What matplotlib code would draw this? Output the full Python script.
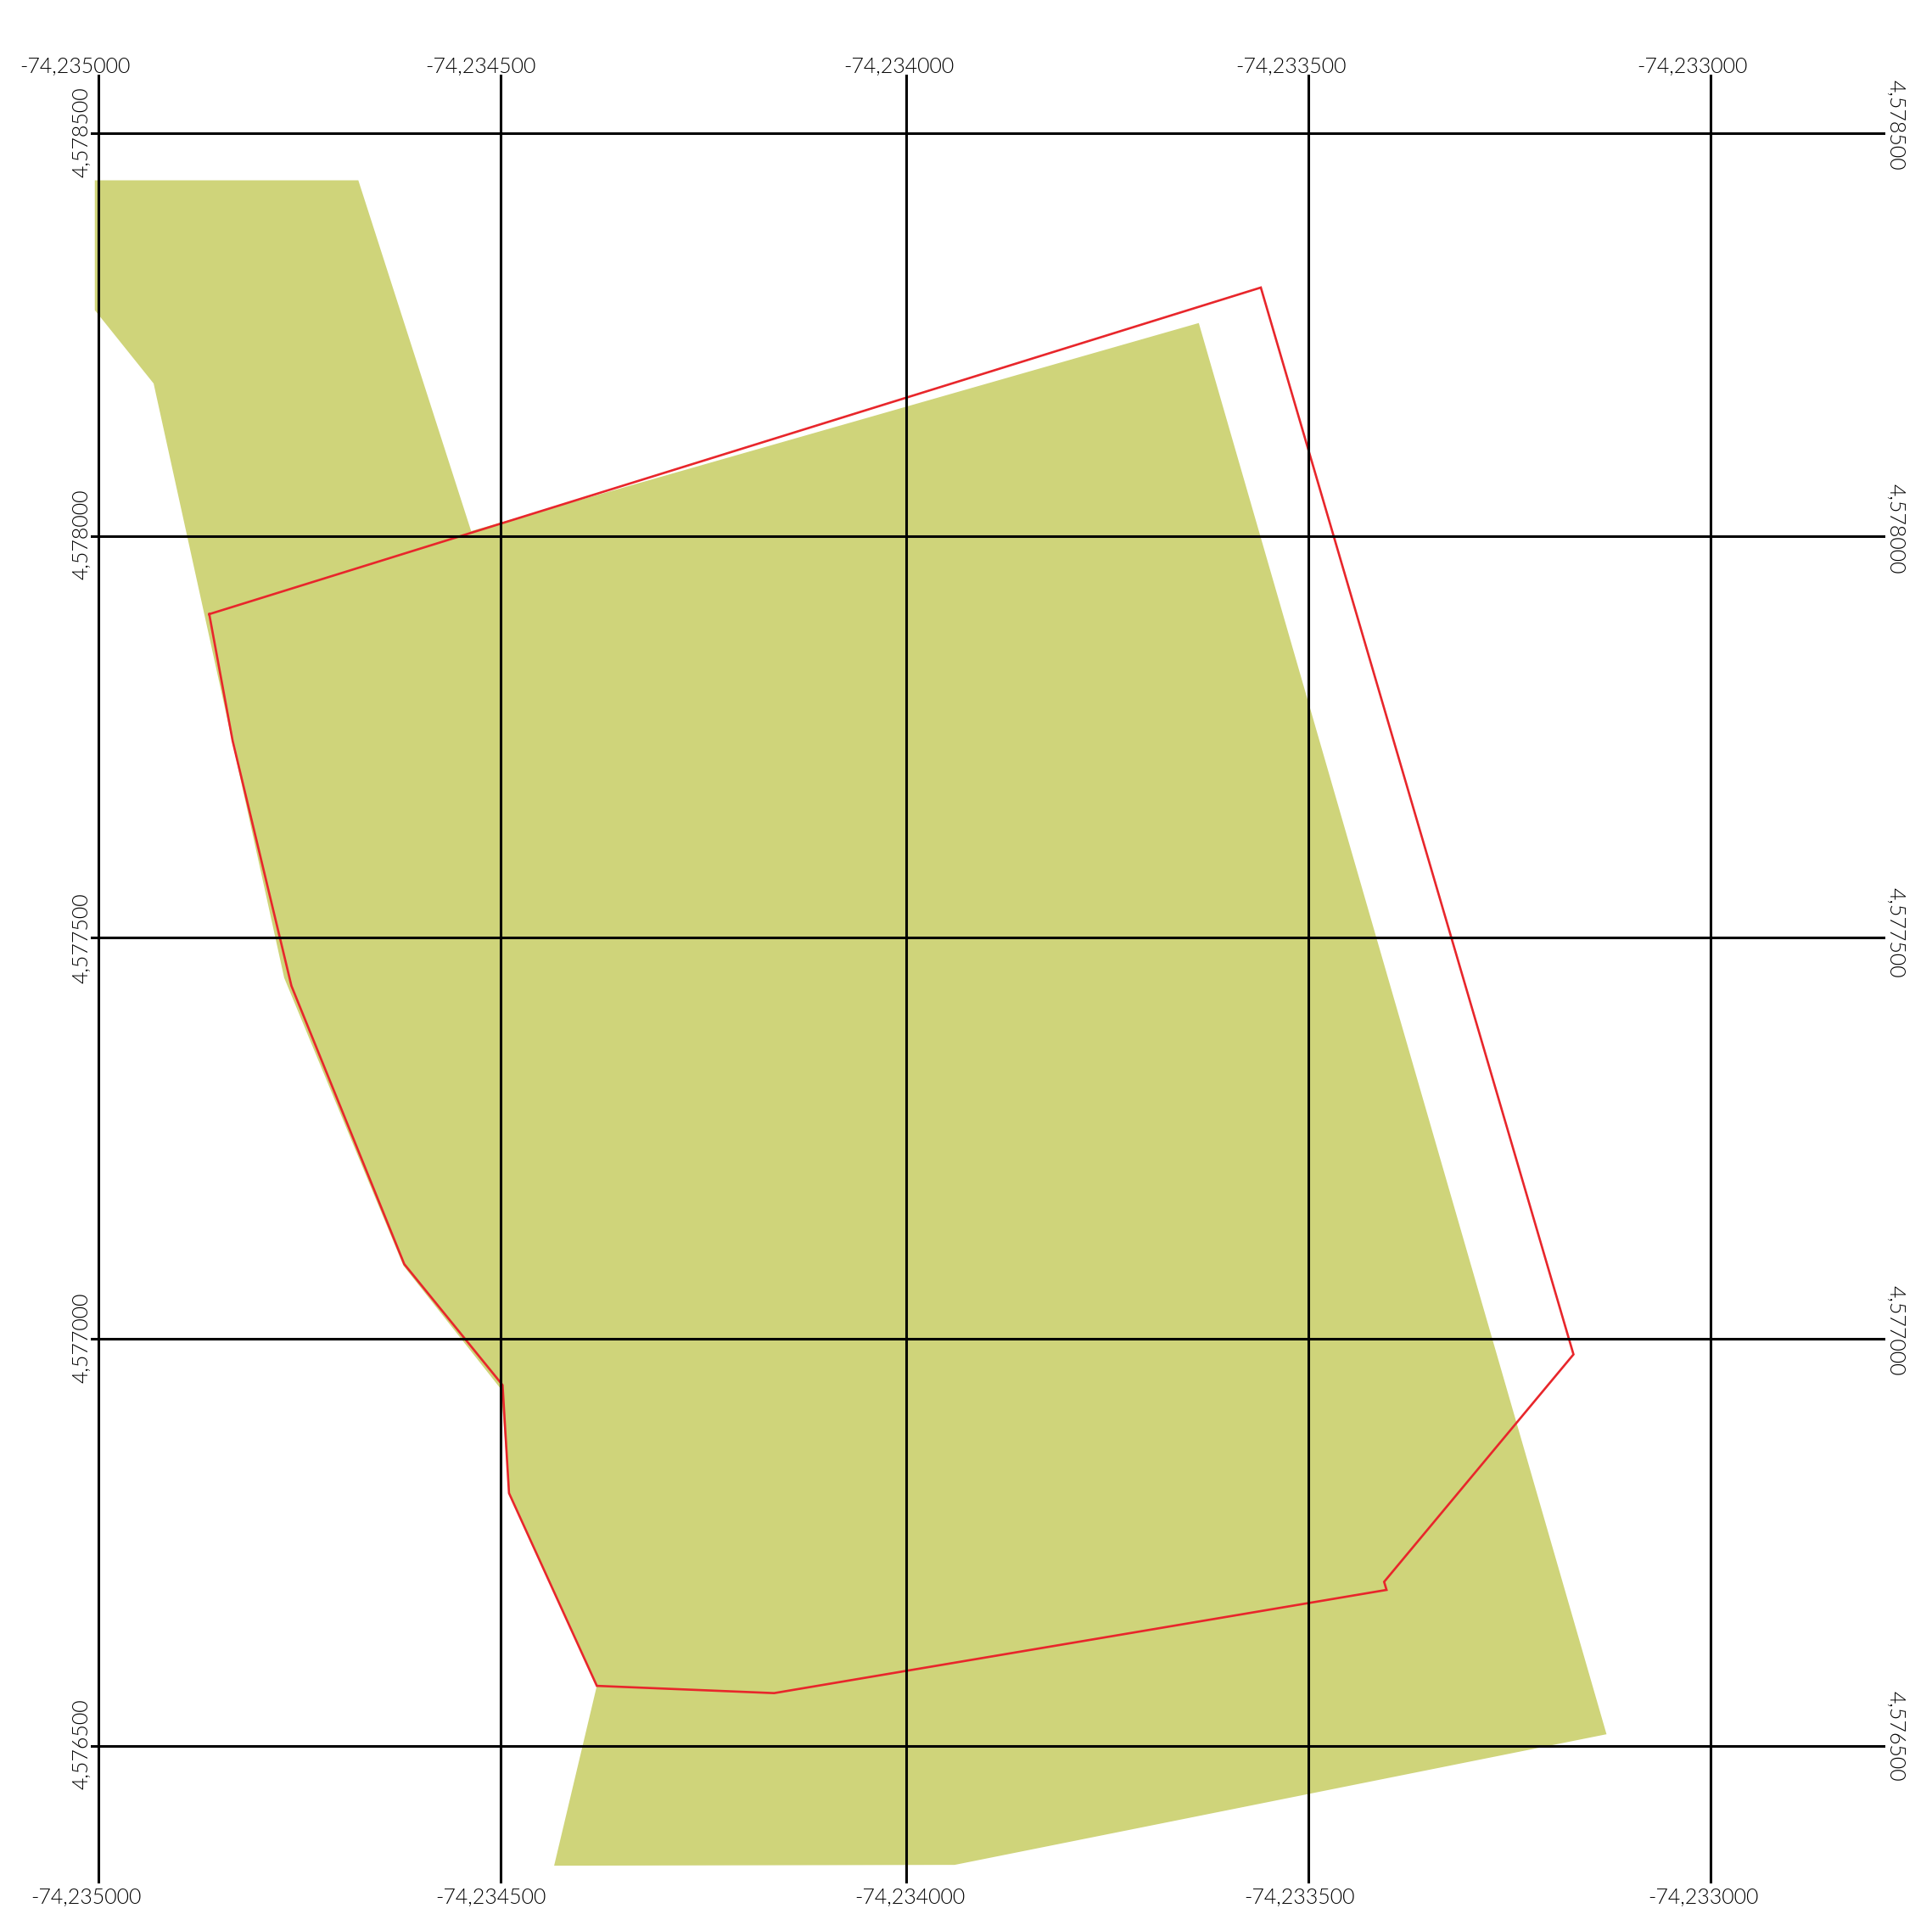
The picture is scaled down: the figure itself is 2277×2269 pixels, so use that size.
# -*- coding: utf-8 -*-
import matplotlib
matplotlib.use('Agg')
import matplotlib.pyplot as plt

lon_ticks = [-74.235000, -74.234501, -74.233998, -74.233499, -74.233000]
lat_ticks = [4.578500, 4.578001, 4.577503, 4.577005, 4.576500]
lon_labels = ['-74,235000', '-74,234500', '-74,234000', '-74,233500', '-74,233000']
lat_labels = ['4,578500', '4,578000', '4,577500', '4,577000', '4,576500']

green_lon = [-74.235005, -74.234678, -74.234538, -74.233635, -74.233129, -74.233938, -74.234435,
             -74.234382, -74.234491, -74.234501, -74.234622, -74.234770, -74.234932, -74.235005]
green_lat = [4.578442, 4.578442, 4.578007, 4.578265, 4.576515, 4.576353, 4.576352,
             4.576575, 4.576814, 4.576943, 4.577096, 4.577453, 4.578190, 4.578281]

red_lon = [-74.234863, -74.234834, -74.234761, -74.234621, -74.234499, -74.234491, -74.234382,
           -74.234162, -74.233402, -74.233405, -74.233170, -74.233558, -74.234863]
red_lat = [4.577904, 4.577747, 4.577443, 4.577098, 4.576948, 4.576814, 4.576575,
           4.576566, 4.576694, 4.576704, 4.576986, 4.578309, 4.577904]

W, H = 2277, 2269
fig = plt.figure(figsize=(W / 100, H / 100), dpi=100, facecolor='white')
ax = fig.add_axes([107 / W, 1 - 2220 / H, 2115 / W, 2132 / H])
ax.set_xlim(-74.235010, -74.232783)
ax.set_ylim(4.576330, 4.578573)
ax.axis('off')

ax.fill(green_lon, green_lat, color='#cfd47a', lw=0, zorder=1)
ax.plot(red_lon, red_lat, color='#e8262b', lw=1.9, zorder=2, solid_joinstyle='miter')
for x in lon_ticks:
    ax.axvline(x, color='black', lw=2.2, zorder=3)
for y in lat_ticks:
    ax.axhline(y, color='black', lw=2.2, zorder=3)

# label shifts in pixels, the labels do not sit centred on their lines
top_dx = [-28, -24, -9, -21, -21]
bottom_dx = [-15, -12, 4, -11, -8]
left_dy = [2, 2, -1, 2, 3]
right_dy = [10, 8, 6, 10, 12]
style = dict(family='Lato', fontweight=300, fontsize=18, color='black',
             ha='center', va='center', textcoords='offset pixels', annotation_clip=False)

ymin, ymax = ax.get_ylim()
xmin, xmax = ax.get_xlim()
for x, s, d1, d2 in zip(lon_ticks, lon_labels, top_dx, bottom_dx):
    ax.annotate(s, xy=(x, ymax), xytext=(d1, 9.5), **style)
    ax.annotate(s, xy=(x, ymin), xytext=(d2, -17), **style)
for y, s, d1, d2 in zip(lat_ticks, lat_labels, left_dy, right_dy):
    ax.annotate(s, xy=(xmin, y), xytext=(-11, d1), rotation=90, **style)
    ax.annotate(s, xy=(xmax, y), xytext=(12, d2), rotation=270, **style)

fig.savefig('out.png', dpi=100, facecolor='white')
